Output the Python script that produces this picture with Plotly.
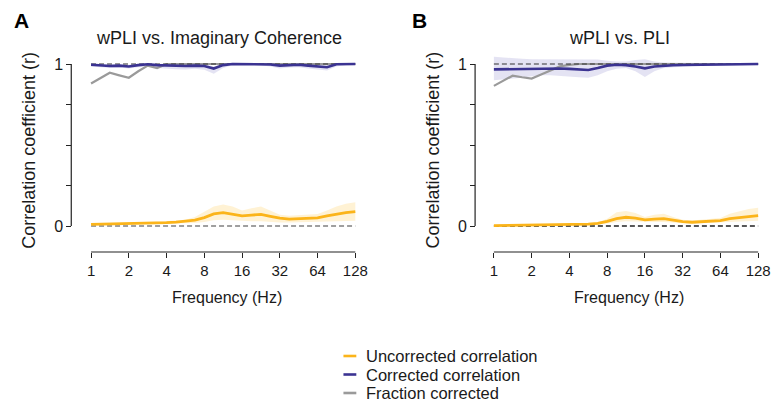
import plotly.graph_objects as go

# ---------------- data ----------------
FREQS = [1, 1.19, 1.41, 1.68, 2, 2.38, 2.83, 3.36, 4, 4.76, 5.66, 6.73, 8, 9.51,
         11.31, 13.45, 16, 19.03, 22.63, 26.91, 32, 38.05, 45.25, 53.82, 64,
         76.11, 90.51, 107.63, 128]
X_TICKS = [1, 2, 4, 8, 16, 32, 64, 128]
X_TICKTEXT = ["1", "2", "4", "8", "16", "32", "64", "128"]
Y_TICKS = [0, 0.25, 0.5, 0.75, 1]
Y_TICKTEXT = ["0", "", "", "", "1"]

# Panel A : wPLI vs. Imaginary Coherence
A_uncorr = [0.010, 0.011, 0.012, 0.013, 0.014, 0.016, 0.018, 0.019, 0.021, 0.024,
            0.028, 0.036, 0.052, 0.075, 0.082, 0.074, 0.063, 0.067, 0.072, 0.060,
            0.048, 0.042, 0.046, 0.048, 0.050, 0.063, 0.075, 0.083, 0.089]
A_uncorr_hi = [0.015, 0.016, 0.017, 0.018, 0.020, 0.022, 0.025, 0.027, 0.030, 0.033,
               0.038, 0.055, 0.085, 0.120, 0.132, 0.120, 0.095, 0.110, 0.120, 0.095,
               0.070, 0.063, 0.067, 0.070, 0.074, 0.095, 0.120, 0.138, 0.146]
A_uncorr_lo = [0.006, 0.007, 0.007, 0.008, 0.008, 0.009, 0.010, 0.011, 0.012, 0.013,
               0.015, 0.018, 0.025, 0.035, 0.038, 0.035, 0.030, 0.030, 0.030, 0.025,
               0.022, 0.022, 0.024, 0.026, 0.028, 0.030, 0.032, 0.033, 0.033]
A_corr = [0.995, 0.990, 0.988, 0.990, 0.985, 0.993, 0.998, 0.993, 0.990, 0.990,
          0.988, 0.990, 0.988, 0.972, 0.993, 1.000, 1.000, 1.000, 1.000, 0.997,
          0.990, 0.993, 0.995, 0.990, 0.985, 0.980, 0.998, 1.000, 1.000]
A_corr_hi = [1.003, 1.000, 0.998, 1.000, 0.995, 1.001, 1.004, 1.001, 1.000, 1.000,
             0.998, 1.000, 0.998, 0.985, 1.002, 1.005, 1.005, 1.005, 1.005, 1.004,
             1.000, 1.002, 1.003, 1.000, 0.996, 0.992, 1.004, 1.005, 1.005]
A_corr_lo = [0.985, 0.978, 0.975, 0.978, 0.972, 0.980, 0.985, 0.975, 0.970, 0.968,
             0.966, 0.970, 0.965, 0.940, 0.975, 0.993, 0.995, 0.995, 0.993, 0.985,
             0.972, 0.978, 0.980, 0.972, 0.965, 0.960, 0.985, 0.994, 0.995]
A_frac = [0.880, 0.915, 0.946, 0.930, 0.915, 0.955, 0.990, 0.975, 1.000, 1.000,
          1.000, 1.000, 1.000, 1.000, 1.000, 1.000, 1.000, 1.000, 1.000, 1.000,
          1.000, 1.000, 1.000, 1.000, 1.000, 1.000, 1.000, 1.000, 1.000]

# Panel B : wPLI vs. PLI
B_uncorr = [0.002, 0.003, 0.003, 0.004, 0.005, 0.005, 0.006, 0.007, 0.008, 0.010,
            0.012, 0.016, 0.028, 0.046, 0.054, 0.049, 0.038, 0.042, 0.045, 0.036,
            0.027, 0.023, 0.026, 0.029, 0.033, 0.046, 0.053, 0.059, 0.064]
B_uncorr_hi = [0.004, 0.005, 0.005, 0.006, 0.007, 0.008, 0.009, 0.010, 0.012, 0.014,
               0.016, 0.022, 0.045, 0.085, 0.093, 0.080, 0.055, 0.070, 0.075, 0.055,
               0.038, 0.034, 0.038, 0.043, 0.050, 0.075, 0.090, 0.105, 0.113]
B_uncorr_lo = [0.000, 0.001, 0.001, 0.002, 0.002, 0.003, 0.003, 0.004, 0.005, 0.006,
               0.007, 0.009, 0.015, 0.025, 0.030, 0.028, 0.024, 0.025, 0.025, 0.020,
               0.017, 0.015, 0.017, 0.019, 0.021, 0.025, 0.028, 0.030, 0.032]
B_corr = [0.967, 0.968, 0.970, 0.970, 0.971, 0.974, 0.975, 0.972, 0.970, 0.966,
          0.963, 0.975, 0.990, 0.995, 0.993, 0.985, 0.973, 0.985, 0.990, 0.992,
          0.994, 0.995, 0.995, 0.996, 0.997, 0.998, 0.998, 0.999, 1.000]
B_corr_hi = [1.045, 1.040, 1.035, 1.032, 1.030, 1.030, 1.030, 1.030, 1.030, 1.030,
             1.030, 1.028, 1.020, 1.015, 1.015, 1.025, 1.030, 1.015, 1.010, 1.008,
             1.007, 1.006, 1.006, 1.006, 1.005, 1.005, 1.005, 1.005, 1.005]
B_corr_lo = [0.900, 0.905, 0.910, 0.915, 0.925, 0.930, 0.930, 0.925, 0.920, 0.918,
             0.915, 0.930, 0.955, 0.970, 0.975, 0.955, 0.920, 0.955, 0.975, 0.980,
             0.985, 0.987, 0.988, 0.989, 0.990, 0.991, 0.992, 0.993, 0.994]
B_frac = [0.865, 0.895, 0.928, 0.918, 0.910, 0.935, 0.962, 0.985, 0.995, 1.000,
          1.000, 1.000, 1.000, 1.000, 1.000, 1.000, 1.000, 1.000, 1.000, 1.000,
          1.000, 1.000, 1.000, 1.000, 1.000, 1.000, 1.000, 1.000, 1.000]

PANELS = [
    dict(letter="A", title="wPLI vs. Imaginary Coherence", unc=A_uncorr, unc_hi=A_uncorr_hi,
         unc_lo=A_uncorr_lo, cor=A_corr, cor_hi=A_corr_hi, cor_lo=A_corr_lo, frac=A_frac),
    dict(letter="B", title="wPLI vs. PLI", unc=B_uncorr, unc_hi=B_uncorr_hi,
         unc_lo=B_uncorr_lo, cor=B_corr, cor_hi=B_corr_hi, cor_lo=B_corr_lo, frac=B_frac),
]
LEGEND_LABELS = ["Uncorrected correlation", "Corrected correlation", "Fraction corrected"]

# ---------------- style ----------------
W, H = 782, 409
FONT = "Liberation Sans"
TXT = "#1a1a1a"
C_UNC = "#FBB41A"
C_UNC_BAND = "rgba(253,190,40,0.20)"
C_COR = "#3B3392"
C_COR_BAND = "rgba(90,80,180,0.16)"
C_FRAC = "#9a9a9a"

PX_PER_DEC = 126.7          # pixels per decade on x
PX_Y0, PX_PER_UNIT = 226, 162
PLOT_TOP, PLOT_BOT = 52, 254
XSPINE_PX = 252
panel_geo = [dict(x1px=92, spine=72, left=69, right=363, ttl_x=221, xt_x=229, ylab_x=29, let_x=22),
             dict(x1px=499, spine=480, left=477, right=770, ttl_x=626, xt_x=636, ylab_x=437, let_x=424)]

yr = [-(PLOT_BOT - PX_Y0) / PX_PER_UNIT, (PX_Y0 - PLOT_TOP) / PX_PER_UNIT]
ydom = [1 - PLOT_BOT / H, 1 - PLOT_TOP / H]
xspine_val = -(XSPINE_PX - PX_Y0) / PX_PER_UNIT

fig = go.Figure()
shapes, annos = [], []

for i, (p, g) in enumerate(zip(PANELS, panel_geo)):
    xa = "x" if i == 0 else "x2"
    ya = "y" if i == 0 else "y2"
    xr = [(g["left"] - g["x1px"]) / PX_PER_DEC, (g["right"] - g["x1px"]) / PX_PER_DEC]
    kw = dict(xaxis=xa, yaxis=ya, showlegend=False, hoverinfo="skip")

    # bands
    fig.add_trace(go.Scatter(x=FREQS, y=p["unc_lo"], mode="lines", line=dict(width=0), **kw))
    fig.add_trace(go.Scatter(x=FREQS, y=p["unc_hi"], mode="lines", line=dict(width=0),
                             fill="tonexty", fillcolor=C_UNC_BAND, **kw))
    fig.add_trace(go.Scatter(x=FREQS, y=p["cor_lo"], mode="lines", line=dict(width=0), **kw))
    fig.add_trace(go.Scatter(x=FREQS, y=p["cor_hi"], mode="lines", line=dict(width=0),
                             fill="tonexty", fillcolor=C_COR_BAND, **kw))
    # fraction corrected
    fig.add_trace(go.Scatter(x=FREQS, y=p["frac"], mode="lines",
                             line=dict(color=C_FRAC, width=2.2), **kw))
    # reference dashed lines
    top_col = "#333333"
    bot_col = "#808080" if i == 0 else "#222222"
    fig.add_trace(go.Scatter(x=[FREQS[0], FREQS[-1]], y=[1, 1], mode="lines",
                             line=dict(color=top_col, width=1.2, dash="5px,3px"), **kw))
    fig.add_trace(go.Scatter(x=[FREQS[0], FREQS[-1]], y=[0, 0], mode="lines",
                             line=dict(color=bot_col, width=1.3, dash="5px,3px"), **kw))
    # corrected + uncorrected
    fig.add_trace(go.Scatter(x=FREQS, y=p["cor"], mode="lines",
                             line=dict(color=C_COR, width=2.6), **kw))
    fig.add_trace(go.Scatter(x=FREQS, y=p["unc"], mode="lines",
                             line=dict(color=C_UNC, width=2.8), **kw))

    xname = "xaxis" if i == 0 else "xaxis2"
    yname = "yaxis" if i == 0 else "yaxis2"
    fig.layout[xname] = dict(
        type="log", range=xr, domain=[g["left"] / W, g["right"] / W],
        anchor="free", position=1 - XSPINE_PX / H,
        tickvals=X_TICKS, ticktext=X_TICKTEXT, ticks="outside", ticklen=5,
        tickwidth=1.2, tickcolor="#222", showgrid=False, zeroline=False, showline=False,
        tickfont=dict(family=FONT, size=15, color=TXT), fixedrange=True)
    fig.layout[yname] = dict(
        range=yr, domain=ydom, anchor="free", position=g["spine"] / W,
        tickvals=Y_TICKS, ticktext=Y_TICKTEXT, ticks="outside", ticklen=5,
        tickwidth=1.2, tickcolor="#222", showgrid=False, zeroline=False, showline=False,
        tickfont=dict(family=FONT, size=16, color=TXT), fixedrange=True)

    # spines (only from 0 to 1 on y, 1 to 128 Hz on x)
    spine_frac = (g["spine"] - g["left"]) / (g["right"] - g["left"])
    shapes.append(dict(type="line", xref=xa + " domain", yref=ya, x0=spine_frac, x1=spine_frac,
                       y0=Y_TICKS[0], y1=Y_TICKS[-1], line=dict(color="#222", width=1.2)))
    shapes.append(dict(type="line", xref=xa, yref=ya,
                       x0=X_TICKS[0], x1=X_TICKS[-1],
                       y0=xspine_val, y1=xspine_val, line=dict(color="#222", width=1.2)))

    annos.append(dict(text=p["title"], x=g["ttl_x"] / W, y=1 - 38 / H, xref="paper", yref="paper",
                      showarrow=False, xanchor="center", yanchor="middle",
                      font=dict(family=FONT, size=18, color=TXT)))
    annos.append(dict(text="<b>%s</b>" % p["letter"], x=g["let_x"] / W, y=1 - 21 / H,
                      xref="paper", yref="paper", showarrow=False, xanchor="center",
                      yanchor="middle", font=dict(family=FONT, size=21, color="#000")))
    annos.append(dict(text="Correlation coefficient (r)", x=g["ylab_x"] / W, y=1 - 150 / H,
                      xref="paper", yref="paper", showarrow=False, textangle=-90,
                      xanchor="center", yanchor="middle",
                      font=dict(family=FONT, size=18, color=TXT)))
    annos.append(dict(text="Frequency (Hz)", x=g["xt_x"] / W, y=1 - 297 / H,
                      xref="paper", yref="paper", showarrow=False, xanchor="center",
                      yanchor="middle", font=dict(family=FONT, size=16, color=TXT)))

# manual legend
leg_cols = [C_UNC, C_COR, C_FRAC]
leg_rows = [356, 374.5, 393]
for lab, col, ry in zip(LEGEND_LABELS, leg_cols, leg_rows):
    shapes.append(dict(type="line", xref="paper", yref="paper", x0=347 / W, x1=360 / W,
                       y0=1 - ry / H, y1=1 - ry / H, line=dict(color=col, width=2.6)))
    annos.append(dict(text=lab, x=368 / W, y=1 - ry / H, xref="paper", yref="paper",
                      showarrow=False, xanchor="left", yanchor="middle",
                      font=dict(family=FONT, size=16.5, color=TXT)))

fig.update_layout(width=W, height=H, margin=dict(l=0, r=0, t=0, b=0),
                  paper_bgcolor="white", plot_bgcolor="white",
                  shapes=shapes, annotations=annos, showlegend=False)
fig.write_html("out.html", config={"displayModeBar": False})
